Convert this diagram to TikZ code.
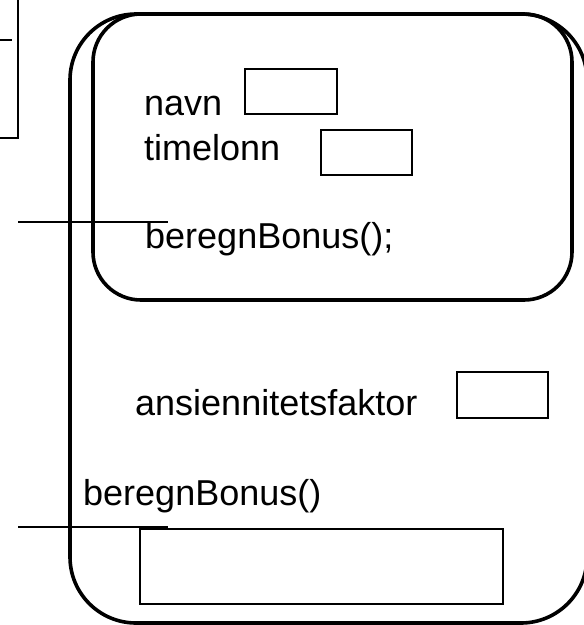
\documentclass[tikz,border=0pt]{standalone}
\usepackage{fontspec}
\setmainfont{Liberation Sans}
\begin{document}
\begin{tikzpicture}[x=1pt,y=-1pt,
  lbl/.style={anchor=base west,inner sep=0pt,font=\fontsize{36}{40}\selectfont},
  slot/.style={draw,line width=1.8pt,anchor=north west,inner sep=0pt},
  frame/.style={draw,line width=3.6pt},
  link/.style={draw,line width=1.4pt}]
\useasboundingbox (0,0) rectangle (584,625);
% partial box at the top left
\node[draw,line width=1.8pt,anchor=north west,minimum width=60pt,minimum height=150pt,inner sep=0pt] (partial) at (-43,-13) {};
\coordinate (ticka) at (0,40);
\coordinate (tickb) at (12,40);
\draw[line width=2.4pt] (ticka) -- (tickb);
% frames
\draw[frame,rounded corners=66pt] (70,14) rectangle (587,623);
\draw[frame,rounded corners=48pt] (93,14) rectangle (572,300);
% labels
\node[lbl] (navn) at (144,115) {navn};
\node[lbl] (timelonn) at (144,160) {timelonn};
\node[lbl] (beregnA) at (145,248) {beregnBonus();};
\node[lbl] (ansien) at (135,415) {ansiennitetsfaktor};
\node[lbl] (beregnB) at (83,505) {beregnBonus()};
% slots
\node[slot,minimum width=92pt,minimum height=45pt] (navnbox) at (244,68) {};
\node[slot,minimum width=91pt,minimum height=45pt] (timebox) at (320,129) {};
\node[slot,minimum width=91pt,minimum height=46pt] (ansienbox) at (456,371) {};
\node[slot,line width=2.2pt,minimum width=363pt,minimum height=75pt] (bodybox) at (139,528) {};
% lines
\coordinate (la) at (18,222);
\coordinate (lb) at (168,222);
\draw[link] (la) -- (lb);
\coordinate (lc) at (18,527);
\coordinate (ld) at (168,527);
\draw[link] (lc) -- (ld);
\end{tikzpicture}
\end{document}
